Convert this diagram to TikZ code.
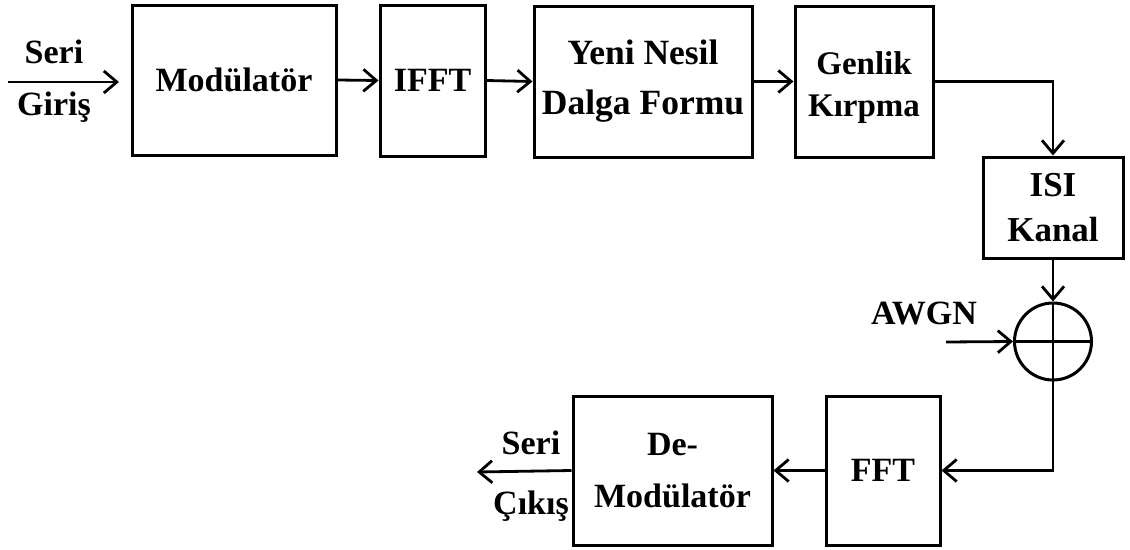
\documentclass[tikz,border=0pt]{standalone}
\usepackage{fontspec}
\setmainfont{Liberation Serif}
\usetikzlibrary{arrows.meta}
\tikzset{
  blk/.style={draw, line width=3pt, rectangle, inner sep=0pt, align=center,
    font=\bfseries\fontsize{34}{46}\selectfont},
  lbl/.style={inner sep=0pt, align=center, font=\bfseries\fontsize{34}{44}\selectfont},
  arr/.style={line width=2.8pt, -{Straight Barb[length=13pt,width=22pt,line width=2.8pt]}},
  ln/.style={line width=2.8pt},
}
\begin{document}
\begin{tikzpicture}[x=1pt,y=-1pt]
\useasboundingbox (0,0) rectangle (1130,549);
% top row
\node[blk, minimum width=204pt, minimum height=150pt] (mod) at (234,80) {Modülatör};
\node[blk, minimum width=105pt, minimum height=151pt] (ifft) at (432.5,80.5) {IFFT};
\node[blk, minimum width=218pt, minimum height=151pt, font=\bfseries\fontsize{35.5}{50}\selectfont] (yeni) at (643,81.5) {Yeni Nesil\\Dalga Formu};
\node[blk, minimum width=138pt, minimum height=151pt] (gen) at (864,81.5) {};
\node[lbl, font=\bfseries\fontsize{33}{42}\selectfont] (gentxt) at (864,88) {Genlik\\Kırpma};
\node[blk, minimum width=140pt, minimum height=101pt, font=\bfseries\fontsize{35}{45}\selectfont] (isi) at (1053,207.5) {ISI\\Kanal};
\node[draw, circle, line width=3pt, minimum size=77pt, inner sep=0pt] (sum) at (1053,341.5) {};
\node[blk, minimum width=114pt, minimum height=149pt] (fft) at (883,470.5) {FFT};
\node[blk, minimum width=199pt, minimum height=149pt, font=\bfseries\fontsize{34}{52}\selectfont] (demod) at (672.5,470.5) {De-\\Modülatör};
% labels
\node[lbl] (seriin) at (54,52) {Seri};
\node[lbl] (giris) at (54,107) {Giriş};
\node[lbl] (awgn) at (924,313) {AWGN};
\node[lbl] (seriout) at (531,443) {Seri};
\node[lbl] (cikis) at (531,506) {Çıkış};
% free ends
\coordinate (inS) at (8,82);
\coordinate (inE) at (119,82);
\coordinate (awS) at (946,342);
\coordinate (outE) at (477,472);
% connectors
\draw[arr] (inS) -- (inE);
\draw[arr] (mod.east) -- (ifft.west);
\draw[arr] (ifft.east) -- (yeni.west);
\draw[arr] (yeni.east) -- (gen.west);
\draw[arr] (gen.east) -| (isi.north);
\draw[arr] (isi.south) -- (sum.north);
\draw[ln] (sum.north) -- (sum.south);
\draw[ln] (sum.west) -- (sum.east);
\draw[arr] (awS) -- (sum.west);
\draw[arr] (sum.south) |- (fft.east);
\draw[arr] (fft.west) -- (demod.east);
\draw[arr] (demod.west) -- (outE);
\end{tikzpicture}
\end{document}
